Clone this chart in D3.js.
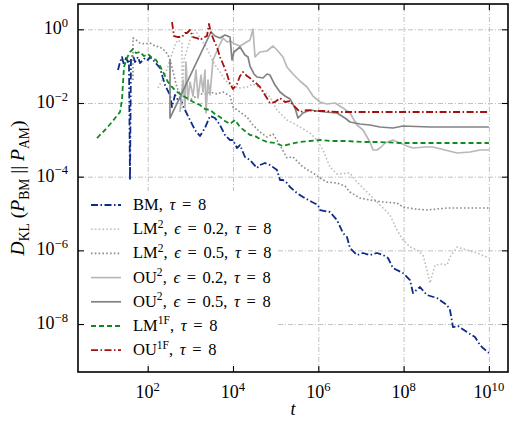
<!DOCTYPE html>
<html lang="en">
<head>
    <meta charset="UTF-8">
    <title>KL divergence vs t</title>
    <script src="https://d3js.org/d3.v7.min.js"></script>
    <style>
        body { margin: 0; background: #fff; }
        svg { display: block; }
        text { font-family: "Liberation Serif", "DejaVu Serif", serif; fill: #000; }
        .grid line { stroke: #b3b3b3; stroke-width: 0.8; stroke-dasharray: 5,2,1,2; }
        .grid path { display: none; }
        .ticks path { display: none; }
        .ticks line { stroke: #000; stroke-width: 1.1; }
    </style>
</head>
<body>
<div id="container"></div>
<script>
// all values are log10 exponents: [log10 t, log10 D_KL]
const bmPts = [[1.304,-1.105],[1.351,-0.888],[1.397,-0.752],[1.444,-0.969],[1.491,-0.779],[1.538,-0.888],[1.561,-0.833],
    [1.585,-4.091],[1.608,-0.779],[1.655,-0.698],[1.702,-0.888],[1.773,-0.752],[1.819,-0.915],[1.937,-0.779],[2.007,-0.833],
    [2.054,-0.752],[2.171,-0.888],[2.288,-1.050],[2.406,-1.512],[2.523,-1.783],[2.570,-2.109],[2.640,-1.783],[2.710,-1.919],
    [2.757,-1.865],[2.875,-2.191],[2.992,-2.462],[3.109,-2.733],[3.226,-2.896],[3.343,-2.679],[3.461,-2.353],[3.578,-2.408],
    [3.695,-2.598],[3.812,-2.869],[3.930,-3.005],[4.000,-3.005],[4.094,-3.222],[4.164,-3.141],[4.281,-3.466],[4.399,-3.548],
    [4.563,-3.765],[4.633,-3.683],[4.750,-3.629],[4.867,-3.683],[5.032,-3.819],[5.102,-4.091],[5.172,-4.091],[5.266,-4.172],
    [5.337,-4.281],[5.501,-4.444],[5.641,-4.552],[5.852,-4.688],[5.993,-4.769],[6.040,-4.905],[6.274,-4.959],[6.438,-5.176],
    [6.579,-5.529],[6.673,-5.638],[6.743,-5.936],[6.907,-6.127],[7.048,-6.072],[7.212,-6.127],[7.376,-6.072],[7.517,-6.127],
    [7.634,-6.208],[7.751,-6.480],[7.986,-6.616],[8.150,-6.806],[8.220,-7.159],[8.384,-6.996],[8.548,-7.213],[8.783,-7.294],
    [9.017,-7.484],[9.088,-7.619],[9.158,-8.081],[9.275,-8.054],[9.487,-8.217],[9.674,-8.353],[9.791,-8.570],[9.862,-8.651],
    [10.0,-8.787]];

const lm2aPts = [[2.241,-1.593],[2.406,-1.241],[2.523,-0.833],[2.640,-0.426],[2.710,-0.290],[2.804,-0.372],[2.804,-2.136],
    [2.851,-0.833],[2.992,-0.290],[3.109,-0.019],[3.226,-0.236],[3.343,-0.426],[3.461,-0.698],[3.578,-0.969],[3.695,-1.159],
    [3.812,-1.376],[3.930,-1.512],[4.164,-1.593],[4.328,-1.566],[4.469,-1.485],[4.633,-1.593],[4.867,-1.838],[5.032,-2.191],
    [5.266,-2.462],[5.571,-2.652],[5.805,-2.815],[5.970,-3.005],[6.110,-3.276],[6.274,-3.738],[6.438,-3.927],[6.743,-3.900],
    [6.907,-4.145],[7.142,-4.416],[7.447,-4.769],[7.681,-5.040],[7.845,-5.448],[7.986,-5.719],[8.150,-5.909],[8.314,-5.991],
    [8.455,-6.127],[8.548,-6.534],[8.619,-6.887],[8.736,-6.398],[8.900,-6.371],[9.017,-6.398],[9.088,-6.181],[9.252,-5.909],
    [9.487,-5.991],[9.721,-6.072],[10.0,-6.208]];

const lm2bPts = [[1.655,-1.376],[1.655,-0.236],[1.726,-0.290],[1.819,-0.372],[1.937,-0.399],[2.054,-0.372],[2.171,-0.453],
    [2.288,-0.480],[2.406,-0.589],[2.476,-0.698],[2.523,-0.833],[2.593,-1.132],[2.664,-1.485],[2.710,-1.648],[2.781,-1.783],
    [2.875,-1.838],[2.992,-1.919],[3.109,-1.838],[3.226,-1.756],[3.343,-1.756],[3.461,-1.702],[3.625,-1.756],[3.766,-1.702],
    [3.930,-1.811],[4.000,-2.109],[4.164,-2.245],[4.328,-2.381],[4.469,-2.598],[4.633,-2.788],[4.797,-2.924],[4.938,-2.842],
    [5.102,-3.141],[5.266,-3.493],[5.407,-3.466],[5.641,-3.738],[5.876,-3.900],[6.040,-4.036],[6.204,-4.145],[6.438,-4.172],
    [6.626,-4.253],[6.743,-4.416],[6.978,-4.579],[7.212,-4.634],[7.517,-4.688],[7.845,-4.715],[7.986,-4.823],[8.267,-4.878],
    [8.548,-4.905],[9.017,-4.851],[9.557,-4.851],[10.0,-4.851]];

const ou2aPts = [[2.757,-2.245],[2.828,-1.376],[2.875,-2.136],[2.898,-0.888],[2.945,-1.919],[2.992,-1.430],[3.062,-1.811],
    [3.132,-1.105],[3.179,-1.865],[3.250,-1.241],[3.297,-1.702],[3.343,-1.105],[3.367,-2.272],[3.414,-1.376],[3.461,-1.783],
    [3.531,-0.833],[3.625,-0.589],[3.695,-0.399],[3.766,-0.236],[3.859,-0.345],[3.930,-0.318],[4.047,-0.399],[4.164,-0.453],
    [4.281,-0.372],[4.399,-0.290],[4.469,0.008],[4.516,-0.752],[4.633,-0.616],[4.797,-0.589],[4.938,-0.453],[5.032,-0.562],
    [5.172,-0.752],[5.266,-1.023],[5.407,-1.213],[5.571,-1.403],[5.735,-1.566],[5.876,-1.811],[6.040,-1.973],[6.204,-2.027],
    [6.392,-2.000],[6.579,-2.136],[6.743,-2.272],[6.907,-2.598],[7.048,-2.733],[7.212,-3.059],[7.283,-3.276],[7.376,-3.276],
    [7.447,-3.222],[7.564,-3.086],[7.751,-3.005],[7.915,-3.086],[8.079,-3.168],[8.220,-3.222],[8.501,-3.195],[8.689,-3.195],
    [8.970,-3.276],[9.252,-3.358],[9.557,-3.331],[9.791,-3.276],[10.0,-3.276]];

const ou2bPts = [[2.523,-0.833],[2.523,-2.408],[3.484,-0.073],[3.578,-0.182],[3.695,-0.236],[3.812,-0.155],[3.930,-0.209],
    [3.977,-0.833],[4.023,-0.616],[4.164,-0.480],[4.281,-0.698],[4.352,-0.752],[4.399,-0.996],[4.492,-1.213],[4.563,-1.295],
    [4.703,-1.322],[4.797,-1.213],[4.867,-1.241],[4.985,-1.512],[5.102,-1.702],[5.219,-1.811],[5.337,-1.892],[5.454,-2.136],
    [5.524,-2.408],[5.641,-2.272],[5.805,-2.191],[5.970,-2.218],[6.157,-2.245],[6.438,-2.272],[6.626,-2.408],[6.743,-2.516],
    [6.978,-2.571],[7.212,-2.598],[7.447,-2.652],[7.751,-2.679],[7.986,-2.625],[8.619,-2.652],[9.322,-2.652],[10.0,-2.652]];

const lm1fPts = [[0.811,-2.951],[0.999,-2.733],[1.163,-2.516],[1.351,-2.245],[1.397,-1.919],[1.444,-1.023],[1.514,-0.779],
    [1.585,-0.616],[1.655,-0.535],[1.726,-0.643],[1.819,-0.616],[1.913,-0.725],[2.007,-0.670],[2.101,-0.779],[2.195,-0.833],
    [2.288,-0.996],[2.359,-1.159],[2.406,-1.268],[2.476,-1.430],[2.570,-1.566],[2.640,-1.648],[2.757,-1.756],[2.875,-1.838],
    [2.992,-1.919],[3.109,-2.000],[3.226,-2.055],[3.343,-2.163],[3.461,-2.191],[3.578,-2.299],[3.695,-2.381],[3.812,-2.489],
    [3.930,-2.571],[4.047,-2.462],[4.164,-2.652],[4.281,-2.761],[4.399,-2.869],[4.516,-2.896],[4.633,-2.978],[4.797,-3.059],
    [4.985,-3.086],[5.172,-3.168],[5.337,-3.113],[5.571,-3.059],[5.805,-3.032],[6.040,-3.005],[6.274,-3.032],[6.626,-3.032],
    [7.048,-3.059],[7.447,-3.059],[7.915,-3.086],[8.619,-3.086],[9.322,-3.086],[10.0,-3.086]];

const ou1fPts = [[2.570,0.198],[2.617,-0.182],[2.710,-0.209],[2.804,-0.209],[2.875,-0.100],[2.921,-0.100],[2.992,-0.019],
    [3.062,-0.209],[3.156,-0.236],[3.226,-0.290],[3.297,-0.236],[3.343,-0.209],[3.390,-0.182],[3.437,0.144],[3.484,-0.100],
    [3.531,-0.236],[3.578,-0.372],[3.625,-0.480],[3.695,-0.752],[3.766,-0.942],[3.859,-1.213],[3.930,-1.485],[4.000,-1.620],
    [4.094,-1.485],[4.164,-1.268],[4.235,-1.159],[4.328,-1.268],[4.399,-1.322],[4.469,-1.403],[4.563,-1.485],[4.633,-1.566],
    [4.750,-1.783],[4.867,-2.000],[4.985,-1.973],[5.102,-1.865],[5.219,-1.973],[5.337,-1.946],[5.454,-2.109],[5.571,-2.245],
    [5.735,-2.191],[5.923,-2.218],[6.157,-2.218],[6.438,-2.245],[6.978,-2.245],[7.986,-2.245],[8.853,-2.245],[10.0,-2.245]];

const xTickExp = [2, 4, 6, 8, 10];
const yTickExp = [0, -2, -4, -6, -8];

// legend labels as rich text parts: [text, kind]  kind: n normal, i italic, sup superscript
const labels = [
    [['BM, ','n'],['τ','i'],[' = 8','n']],
    [['LM','n'],['2','sup'],[', ','n'],['ϵ','i'],[' = 0.2, ','n'],['τ','i'],[' = 8','n']],
    [['LM','n'],['2','sup'],[', ','n'],['ϵ','i'],[' = 0.5, ','n'],['τ','i'],[' = 8','n']],
    [['OU','n'],['2','sup'],[', ','n'],['ϵ','i'],[' = 0.2, ','n'],['τ','i'],[' = 8','n']],
    [['OU','n'],['2','sup'],[', ','n'],['ϵ','i'],[' = 0.5, ','n'],['τ','i'],[' = 8','n']],
    [['LM','n'],['1F','sup'],[', ','n'],['τ','i'],[' = 8','n']],
    [['OU','n'],['1F','sup'],[', ','n'],['τ','i'],[' = 8','n']]
];

const series = [
    {pts: bmPts,   color: '#0c2a88', width: 1.8, dash: '7,2.5,1.5,2.5'},
    {pts: lm2aPts, color: '#bdbdbd', width: 1.6, dash: '1.6,2.2'},
    {pts: lm2bPts, color: '#8a8a8a', width: 1.6, dash: '1.6,2.2'},
    {pts: ou2aPts, color: '#b8b8b8', width: 1.7, dash: null},
    {pts: ou2bPts, color: '#828282', width: 1.7, dash: null},
    {pts: lm1fPts, color: '#118a22', width: 1.8, dash: '5,3'},
    {pts: ou1fPts, color: '#a50f0f', width: 1.8, dash: '7,2.5,1.5,2.5'}
];

const W = 513, H = 426;
const mLeft = 78, mRight = 508, mTop = 4, mBottom = 372;

const svg = d3.select('#container').append('svg')
    .attr('width', W).attr('height', H);

const x = d3.scaleLog().domain([Math.pow(10, 0.366), Math.pow(10, 10.448)]).range([mLeft, mRight]);
const y = d3.scaleLog().domain([Math.pow(10, -9.302), Math.pow(10, 0.687)]).range([mBottom, mTop]);

const xTicks = xTickExp.map(e => Math.pow(10, e));
const yTicks = yTickExp.map(e => Math.pow(10, e));

// grid
svg.append('g').attr('class', 'grid')
    .attr('transform', `translate(0,${mBottom})`)
    .call(d3.axisBottom(x).tickValues(xTicks).tickSize(-(mBottom - mTop)).tickFormat(''));
svg.append('g').attr('class', 'grid')
    .attr('transform', `translate(${mLeft},0)`)
    .call(d3.axisLeft(y).tickValues(yTicks).tickSize(-(mRight - mLeft)).tickFormat(''));

svg.append('clipPath').attr('id', 'plot')
    .append('rect').attr('x', mLeft).attr('y', mTop).attr('width', mRight - mLeft).attr('height', mBottom - mTop);

const line = d3.line()
    .x(d => x(Math.pow(10, d[0])))
    .y(d => y(Math.pow(10, d[1])));

const lines = svg.append('g').attr('clip-path', 'url(#plot)');
series.forEach(s => {
    lines.append('path')
        .attr('d', line(s.pts))
        .attr('fill', 'none')
        .attr('stroke', s.color)
        .attr('stroke-width', s.width)
        .attr('stroke-dasharray', s.dash)
        .attr('stroke-linejoin', 'round');
});

// rich text helper
function rich(sel, parts, size) {
    let shift = 0;
    parts.forEach(p => {
        const ts = sel.append('tspan').text(p[0]);
        let target = 0;
        if (p[1] === 'i') ts.attr('font-style', 'italic');
        if (p[1] === 'sup') { ts.attr('font-size', size * 0.7); target = -size * 0.4; }
        if (p[1] === 'sub') { ts.attr('font-size', size * 0.7); target = size * 0.25; }
        if (target !== shift) { ts.attr('dy', target - shift); shift = target; }
    });
}

// legend
const lg = svg.append('g');
lg.append('rect').attr('x', 80).attr('y', 191).attr('width', 198).attr('height', 173).attr('fill', '#fff');
labels.forEach((lab, i) => {
    const ly = 205 + i * 24.2;
    const s = series[i];
    lg.append('line')
        .attr('x1', 91).attr('x2', 121).attr('y1', ly).attr('y2', ly)
        .attr('stroke', s.color).attr('stroke-width', s.width)
        .attr('stroke-dasharray', s.dash);
    const t = lg.append('text').attr('x', 133).attr('y', ly + 5)
        .attr('font-size', 16.5).attr('word-spacing', 2.5);
    rich(t, lab, 16.5);
});

// ticks on all four sides, pointing inward
const tk = 6;
svg.append('g').attr('class', 'ticks').attr('transform', `translate(0,${mBottom})`)
    .call(d3.axisBottom(x).tickValues(xTicks).tickSize(-tk).tickFormat(''));
svg.append('g').attr('class', 'ticks').attr('transform', `translate(0,${mTop})`)
    .call(d3.axisTop(x).tickValues(xTicks).tickSize(-tk).tickFormat(''));
svg.append('g').attr('class', 'ticks').attr('transform', `translate(${mLeft},0)`)
    .call(d3.axisLeft(y).tickValues(yTicks).tickSize(-tk).tickFormat(''));
svg.append('g').attr('class', 'ticks').attr('transform', `translate(${mRight},0)`)
    .call(d3.axisRight(y).tickValues(yTicks).tickSize(-tk).tickFormat(''));

svg.append('rect').attr('x', mLeft).attr('y', mTop).attr('width', mRight - mLeft).attr('height', mBottom - mTop)
    .attr('fill', 'none').attr('stroke', '#000').attr('stroke-width', 1.6);

// tick labels
const fs = 18;
xTickExp.forEach(e => {
    const t = svg.append('text').attr('x', x(Math.pow(10, e))).attr('y', 398)
        .attr('text-anchor', 'middle').attr('font-size', fs);
    rich(t, [['10', 'n'], [String(e), 'sup']], fs);
});
yTickExp.forEach(e => {
    const t = svg.append('text').attr('x', 68).attr('y', y(Math.pow(10, e)) + 5)
        .attr('text-anchor', 'end').attr('font-size', fs);
    rich(t, [['10', 'n'], [e < 0 ? '\u2212' + (-e) : String(e), 'sup']], fs);
});

// axis labels
svg.append('text').attr('x', (mLeft + mRight) / 2).attr('y', 415)
    .attr('text-anchor', 'middle').attr('font-size', fs).attr('font-style', 'italic').text('t');

const yl = svg.append('text')
    .attr('transform', `translate(24,${(mTop + mBottom) / 2}) rotate(-90)`)
    .attr('text-anchor', 'middle').attr('font-size', 19.5);
rich(yl, [['D', 'i'], ['KL', 'sub'], [' (', 'n'], ['P', 'i'], ['BM', 'sub'], [' || ', 'n'], ['P', 'i'], ['AM', 'sub'], [')', 'n']], 19.5);
</script>
</body>
</html>
